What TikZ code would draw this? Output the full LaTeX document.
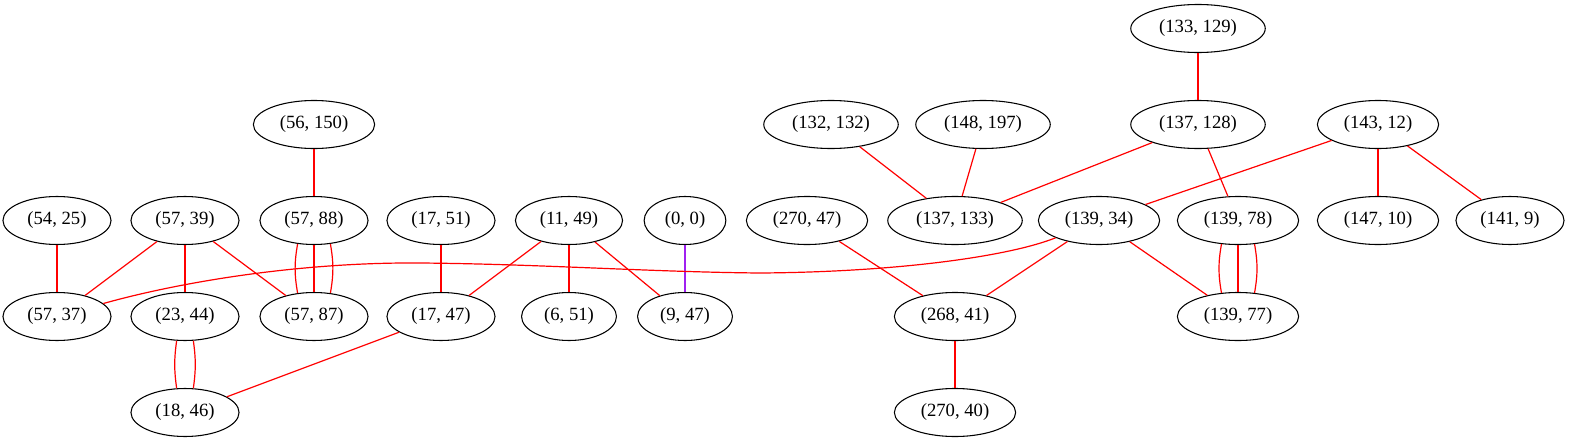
\documentclass[tikz,border=0pt]{standalone}
\usepackage{fontspec}
\setmainfont{Liberation Serif}
\usetikzlibrary{shapes.geometric}
\definecolor{gvpurple}{HTML}{A020F0}
\begin{document}
\begin{tikzpicture}[x=0.75pt,y=-0.75pt,
  gnode/.style={draw=black, ellipse, line width=0.8pt, inner xsep=6.5pt, inner ysep=2pt,
    minimum height=36pt, minimum width=54pt, font=\fontsize{14}{16}\selectfont},
  rline/.style={draw=red, line width=0.9pt},
  pline/.style={draw=gvpurple, line width=0.9pt}]
\useasboundingbox (0,0) rectangle (1575,443);
% row 1
\node[gnode] (n133129) at (1198,28.5) {(133, 129)};
% row 2
\node[gnode] (n56150) at (314,124.5) {(56, 150)};
\node[gnode] (n132132) at (831,124.5) {(132, 132)};
\node[gnode] (n148197) at (983,124.5) {(148, 197)};
\node[gnode] (n137128) at (1198,124.5) {(137, 128)};
\node[gnode] (n14312) at (1378,124.5) {(143, 12)};
% row 3
\node[gnode] (n5425) at (57,220.5) {(54, 25)};
\node[gnode] (n5739) at (185,220.5) {(57, 39)};
\node[gnode] (n5788) at (314,220.5) {(57, 88)};
\node[gnode] (n1751) at (441,220.5) {(17, 51)};
\node[gnode] (n1149) at (569,220.5) {(11, 49)};
\node[gnode] (n00) at (685,220.5) {(0, 0)};
\node[gnode] (n27047) at (807,220.5) {(270, 47)};
\node[gnode] (n137133) at (955,220.5) {(137, 133)};
\node[gnode] (n13934) at (1099,220.5) {(139, 34)};
\node[gnode] (n13978) at (1238,220.5) {(139, 78)};
\node[gnode] (n14710) at (1378,220.5) {(147, 10)};
\node[gnode] (n1419) at (1510,220.5) {(141, 9)};
% row 4
\node[gnode] (n5737) at (57,316.5) {(57, 37)};
\node[gnode] (n2344) at (185,316.5) {(23, 44)};
\node[gnode] (n5787) at (314,316.5) {(57, 87)};
\node[gnode] (n1747) at (441,316.5) {(17, 47)};
\node[gnode] (n651) at (569,316.5) {(6, 51)};
\node[gnode] (n947) at (685,316.5) {(9, 47)};
\node[gnode] (n26841) at (955,316.5) {(268, 41)};
\node[gnode] (n13977) at (1238,316.5) {(139, 77)};
% row 5
\node[gnode] (n1846) at (185,412.5) {(18, 46)};
\node[gnode] (n27040) at (955,412.5) {(270, 40)};
% edges
\draw[rline] (n133129) -- (n137128);
\draw[rline] (n56150) -- (n5788);
\draw[rline] (n132132) -- (n137133);
\draw[rline] (n148197) -- (n137133);
\draw[rline] (n137128) -- (n137133);
\draw[rline] (n137128) -- (n13978);
\draw[rline] (n14312) -- (n13934);
\draw[rline] (n14312) -- (n14710);
\draw[rline] (n14312) -- (n1419);
\draw[rline] (n5425) -- (n5737);
\draw[rline] (n5739) -- (n5737);
\draw[rline] (n5739) -- (n2344);
\draw[rline] (n5739) -- (n5787);
\draw[rline] (n5788.235) to[bend right=10] (n5787.125);
\draw[rline] (n5788) -- (n5787);
\draw[rline] (n5788.305) to[bend left=10] (n5787.55);
\draw[rline] (n1751) -- (n1747);
\draw[rline] (n1149) -- (n1747);
\draw[rline] (n1149) -- (n651);
\draw[rline] (n1149) -- (n947);
\draw[pline] (n00) -- (n947);
\draw[rline] (n27047) -- (n26841);
\draw[rline] (n13934) .. controls (1010,256) and (900,272) .. (760,273)
  .. controls (650,272) and (540,264) .. (420,263)
  .. controls (300,262) and (180,282) .. (n5737);
\draw[rline] (n13934) -- (n26841);
\draw[rline] (n13934) -- (n13977);
\draw[rline] (n13978.235) to[bend right=10] (n13977.125);
\draw[rline] (n13978) -- (n13977);
\draw[rline] (n13978.305) to[bend left=10] (n13977.55);
\draw[rline] (n2344.251) to[bend right=8] (n1846.109);
\draw[rline] (n2344.289) to[bend left=8] (n1846.71);
\draw[rline] (n1747) -- (n1846);
\draw[rline] (n26841) -- (n27040);
\end{tikzpicture}
\end{document}
